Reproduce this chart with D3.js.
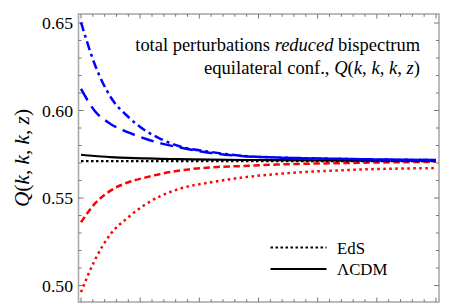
<!DOCTYPE html>
<html>
<head>
<meta charset="utf-8">
<script src="https://cdn.jsdelivr.net/npm/d3@7"></script>
<style>
  body { margin: 0; background: #fff; }
  svg text { font-family: "Liberation Serif", "Liberation Sans", sans-serif; }
</style>
</head>
<body>
<svg id="chart" width="454" height="304"></svg>
<script>
// shared x grid (no labels on the x axis in the original)
var xs = [0, 0.23, 0.5, 0.8, 1.1, 1.35, 1.65, 2.2, 2.75, 3.3, 4.5, 6];

var blueDashDot = [0.6504, 0.6266, 0.6077, 0.5963, 0.5883, 0.5837, 0.5797, 0.5763, 0.5740, 0.5732, 0.5723, 0.5717];
var blueLongDash = [0.6123, 0.5999, 0.5923, 0.5875, 0.5837, 0.5812, 0.5790, 0.5757, 0.5739, 0.5731, 0.5723, 0.5717];
var lcdmSolid = [0.5747, 0.5740, 0.5734, 0.5729, 0.5726, 0.5724, 0.5722, 0.5719, 0.5717, 0.5716, 0.5714, 0.5713];
var edsDotted = [0.5711, 0.5711, 0.5711, 0.5711, 0.5711, 0.5711, 0.5711, 0.5711, 0.5711, 0.5711, 0.5711, 0.5711];
var redDashed = [0.5361, 0.5466, 0.5542, 0.5590, 0.5618, 0.5638, 0.5656, 0.5675, 0.5683, 0.5691, 0.5700, 0.5707];
var redDotted = [0.4962, 0.5142, 0.5294, 0.5390, 0.5466, 0.5512, 0.5551, 0.5590, 0.5618, 0.5637, 0.5660, 0.5671];

var yTicks = [0.50, 0.55, 0.60, 0.65];

var series = [
  { values: redDotted, color: "#ff0000", dash: "2.5,3.5", width: 2.5 },
  { values: redDashed, color: "#ff0000", dash: "6.5,3.5", width: 2.5 },
  { values: edsDotted, color: "#000", dash: "2.5,2.5", width: 2.4 },
  { values: lcdmSolid, color: "#000", dash: null, width: 2.2 },
  { values: blueLongDash, color: "#0000ff", dash: "13,7", width: 2.5 },
  { values: blueDashDot, color: "#0000ff", dash: "9,4,3,4", width: 2.5 }
];

var svg = d3.select("#chart");
var fLeft = 78.5, fRight = 439, fTop = 14, fBottom = 302;

var x = d3.scaleLinear().domain([0, 6]).range([81, 436]);
var y = d3.scaleLinear().domain([0.50, 0.65]).range([285.5, 23]);

// scale a text's font so it spans the width seen in the reference
function fitWidth(sel, target) {
  var w = sel.node().getComputedTextLength();
  var fs = parseFloat(sel.attr("font-size"));
  sel.attr("font-size", (fs * target / w).toFixed(2));
}

// frame
svg.append("rect")
  .attr("x", fLeft).attr("y", fTop)
  .attr("width", fRight - fLeft).attr("height", fBottom - fTop)
  .attr("fill", "none").attr("stroke", "#aaa").attr("stroke-width", 1.6);

// ticks, drawn inward on all four sides
var tickG = svg.append("g").attr("stroke", "#777").attr("stroke-width", 1);
d3.range(0, 6.001, 0.2).forEach(function(v) {
  var major = Math.abs(v - Math.round(v)) < 1e-6;
  var len = major ? 4.5 : 2.8;
  var px = x(v);
  tickG.append("line").attr("x1", px).attr("x2", px).attr("y1", fBottom).attr("y2", fBottom - len);
  tickG.append("line").attr("x1", px).attr("x2", px).attr("y1", fTop).attr("y2", fTop + len);
});
d3.range(0.50, 0.6501, 0.01).forEach(function(v) {
  var major = Math.abs(v * 20 - Math.round(v * 20)) < 1e-6;
  var len = major ? 5 : 3;
  var py = y(v);
  tickG.append("line").attr("x1", fLeft).attr("x2", fLeft + len).attr("y1", py).attr("y2", py);
  tickG.append("line").attr("x1", fRight).attr("x2", fRight - len).attr("y1", py).attr("y2", py);
});

// y tick labels
var yl = svg.append("g").selectAll("text")
  .data(yTicks).enter()
  .append("text")
  .attr("x", 73)
  .attr("y", function(d) { return y(d); })
  .attr("dy", "0.36em")
  .attr("text-anchor", "end")
  .attr("font-size", 16)
  .text(function(d) { return d3.format(".2f")(d); });
var ylw = yl.node().getComputedTextLength();
yl.attr("font-size", (16 * 31 / ylw).toFixed(2));

// curves
svg.append("defs").append("clipPath").attr("id", "clip")
  .append("rect").attr("x", fLeft).attr("y", fTop)
  .attr("width", fRight - fLeft).attr("height", fBottom - fTop);

var line = d3.line()
  .x(function(d, i) { return x(xs[i]); })
  .y(function(d) { return y(d); })
  .curve(d3.curveMonotoneX);

svg.append("g").attr("clip-path", "url(#clip)")
  .selectAll("path")
  .data(series).enter()
  .append("path")
  .attr("d", function(s) { return line(s.values); })
  .attr("fill", "none")
  .attr("stroke", function(s) { return s.color; })
  .attr("stroke-width", function(s) { return s.width; })
  .attr("stroke-dasharray", function(s) { return s.dash; });

// title text (top right)
var t1 = svg.append("text").attr("x", 420).attr("y", 51)
  .attr("text-anchor", "end").attr("font-size", 16);
t1.append("tspan").text("total perturbations ");
t1.append("tspan").attr("font-style", "italic").text("reduced");
t1.append("tspan").text(" bispectrum");
fitWidth(t1, 285);

function qLabel(sel) {
  sel.append("tspan").attr("font-style", "italic").text("Q");
  sel.append("tspan").text("(");
  sel.append("tspan").attr("font-style", "italic").text("k");
  sel.append("tspan").text(", ");
  sel.append("tspan").attr("font-style", "italic").text("k");
  sel.append("tspan").text(", ");
  sel.append("tspan").attr("font-style", "italic").text("k");
  sel.append("tspan").text(", ");
  sel.append("tspan").attr("font-style", "italic").text("z");
  sel.append("tspan").text(")");
}

var t2 = svg.append("text").attr("x", 420).attr("y", 74)
  .attr("text-anchor", "end").attr("font-size", 16);
t2.append("tspan").text("equilateral conf., ");
qLabel(t2);
fitWidth(t2, 216);

// y axis title
var yt = svg.append("text")
  .attr("transform", "translate(29,158) rotate(-90)")
  .attr("text-anchor", "middle").attr("font-size", 16);
qLabel(yt);
fitWidth(yt, 98);

// legend
var legend = [
  { label: "EdS", dash: "2.5,2.5", y: 247.5 },
  { label: "\u039BCDM", dash: null, y: 269 }
];
var lg = svg.append("g").selectAll("g").data(legend).enter().append("g");
lg.append("line")
  .attr("x1", 270.5).attr("x2", 326.5)
  .attr("y1", function(d) { return d.y; }).attr("y2", function(d) { return d.y; })
  .attr("stroke", "#000").attr("stroke-width", 2)
  .attr("stroke-dasharray", function(d) { return d.dash; });
var lt = lg.append("text")
  .attr("x", 337).attr("y", function(d) { return d.y; })
  .attr("dy", "0.36em").attr("font-size", 16)
  .text(function(d) { return d.label; });
fitWidth(d3.select(lt.node()), 28);
lt.attr("font-size", d3.select(lt.node()).attr("font-size"));
</script>
</body>
</html>
